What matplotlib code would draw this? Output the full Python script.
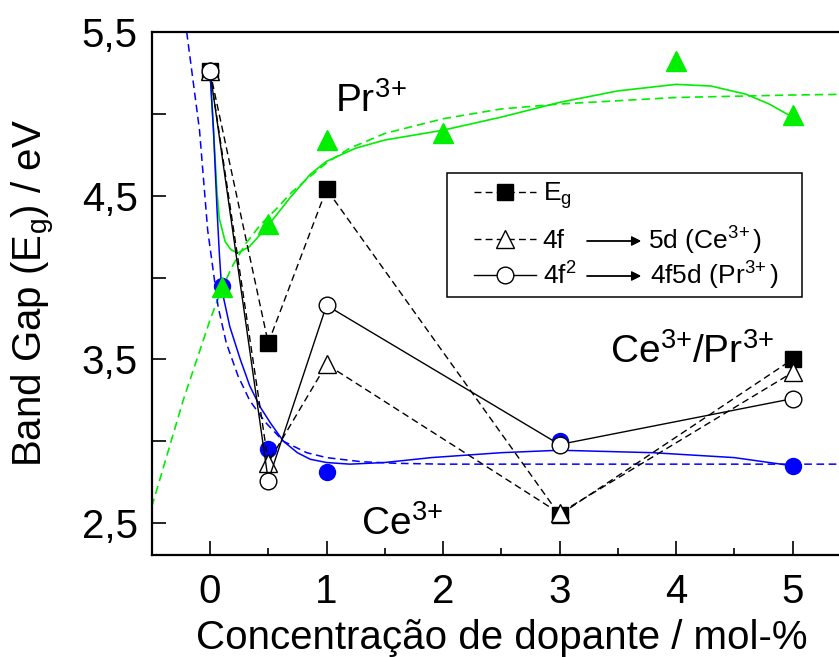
import matplotlib
matplotlib.use("Agg")
import matplotlib.pyplot as plt
from matplotlib.patches import Rectangle
from matplotlib.legend import Legend

plt.rcParams['font.family'] = ['Liberation Sans', 'DejaVu Sans']
plt.rcParams['mathtext.fontset'] = 'custom'
plt.rcParams['mathtext.rm'] = 'Liberation Sans'
plt.rcParams['mathtext.it'] = 'Liberation Sans'
plt.rcParams['mathtext.default'] = 'regular'

# ---- data ----
conc = [0, 0.5, 1, 3, 5]
eg = [5.26, 3.60, 4.54, 2.55, 3.50]
f_5d_ce = [5.26, 2.87, 3.47, 2.56, 3.42]
f2_4f5d_pr = [5.26, 2.76, 3.83, 2.98, 3.26]

pr_x = [0.1, 0.5, 1, 2, 4, 5]
pr_y = [3.94, 4.33, 4.84, 4.88, 5.32, 4.99]

ce_x = [0.1, 0.5, 1, 3, 5]
ce_y = [3.95, 2.95, 2.81, 3.00, 2.85]

# smooth curve through Pr3+
pr_curve_x = [0, 0.03, 0.06, 0.08, 0.13, 0.18, 0.24, 0.34, 0.49, 0.69, 0.86, 1.0, 1.25,
              1.5, 2.0, 2.5, 3.0, 3.5, 4.0, 4.3, 4.6, 4.8, 5.0]
pr_curve_y = [5.26, 4.90, 4.52, 4.36, 4.22, 4.17, 4.15, 4.19, 4.31, 4.49, 4.63, 4.71, 4.79,
              4.84, 4.90, 4.98, 5.07, 5.14, 5.18, 5.17, 5.12, 5.06, 4.98]
# exponential-type fit for Pr3+
pr_fit_x = [-0.5, -0.45, -0.23, 0.0, 0.1, 0.2, 0.31, 0.43, 0.57, 0.7, 0.83, 1.0, 1.2, 1.5,
            2.0, 2.5, 3.0, 4.0, 5.0, 5.5]
pr_fit_y = [2.60, 2.72, 3.25, 3.74, 3.93, 4.08, 4.21, 4.32, 4.42, 4.52, 4.60, 4.70, 4.79,
            4.88, 4.97, 5.03, 5.06, 5.10, 5.115, 5.12]

# smooth curve through Ce3+
ce_curve_x = [0, 0.03, 0.06, 0.08, 0.1, 0.17, 0.26, 0.34, 0.43, 0.52, 0.63, 0.75, 0.86,
              1.0, 1.2, 1.5, 1.9, 2.5, 3.0, 3.8, 4.5, 5.0]
ce_curve_y = [5.26, 4.90, 4.42, 4.15, 3.93, 3.70, 3.50, 3.34, 3.21, 3.11, 3.00, 2.93, 2.89,
              2.87, 2.86, 2.87, 2.90, 2.93, 2.945, 2.93, 2.90, 2.85]
# exponential-type fit for Ce3+
ce_fit_x = [-0.2, -0.09, -0.02, 0.07, 0.14, 0.24, 0.34, 0.47, 0.63, 0.83, 1.0, 1.3, 1.6,
            2.0, 3.0, 4.0, 5.0, 5.5]
ce_fit_y = [5.5, 4.90, 4.29, 3.82, 3.60, 3.40, 3.25, 3.12, 3.00, 2.93, 2.90, 2.875, 2.865,
            2.86, 2.86, 2.86, 2.86, 2.86]

x_ticks = [0, 1, 2, 3, 4, 5]
x_minor = [-0.5, 0.5, 1.5, 2.5, 3.5, 4.5, 5.5]
y_ticks = [2.5, 3.5, 4.5, 5.5]
y_tick_labels = ["2,5", "3,5", "4,5", "5,5"]
y_minor = [3.0, 4.0, 5.0]

GREEN = '#00ee00'
BLUE = '#0000ff'

W, H = 839, 657
fig = plt.figure(figsize=(W / 100, H / 100), dpi=100)
ax = fig.add_axes([151.75 / W, 1 - 555 / H, 6 * 116.5 / W, (555 - 32) / H])
ax.set_xlim(-0.5, 5.5)
ax.set_ylim(2.305, 5.5)

# fitted curves
ax.plot(pr_fit_x, pr_fit_y, color=GREEN, lw=1.2, ls=(0, (5, 3)), zorder=2)
ax.plot(pr_curve_x, pr_curve_y, color=GREEN, lw=1.2, zorder=2)
ax.plot(ce_fit_x, ce_fit_y, color=BLUE, lw=1.1, ls=(0, (5, 3)), zorder=2)
ax.plot(ce_curve_x, ce_curve_y, color=BLUE, lw=1.1, zorder=2)

ax.plot(ce_x, ce_y, 'o', color=BLUE, ms=11.5, zorder=3)
ax.plot(pr_x, pr_y, '^', color=GREEN, ms=14, zorder=4)

# black series
l1, = ax.plot(conc, eg, color='black', lw=1, ls=(0, (5, 3)), marker='s', ms=11,
              mfc='black', zorder=5)
l2, = ax.plot(conc, f_5d_ce, color='black', lw=1, ls=(0, (5, 3)), marker='^', ms=13,
              mfc='white', mec='black', mew=1, zorder=6)
l3, = ax.plot(conc, f2_4f5d_pr, color='black', lw=1, ls='-', marker='o', ms=12,
              mfc='white', mec='black', mew=1, zorder=7)

# axes styling
for s in ax.spines.values():
    s.set_linewidth(1.6)
ax.spines['right'].set_visible(False)
ax.set_xticks(x_ticks)
ax.set_xticks(x_minor, minor=True)
ax.set_yticks(y_ticks)
ax.set_yticklabels(y_tick_labels)
ax.set_yticks(y_minor, minor=True)
ax.tick_params(axis='both', which='both', direction='in', width=1.2, labelsize=29)
ax.tick_params(axis='x', which='major', length=10, pad=13)
ax.tick_params(axis='x', which='minor', length=5)
ax.tick_params(axis='y', which='both', length=10, pad=10)
ax.tick_params(right=False, top=False)

ax.set_xlabel('Concentração de dopante / mol-%', fontsize=29, labelpad=6)
ax.set_ylabel('Band Gap (E$_g$) / eV', fontsize=29, labelpad=18)

# annotations
SUP = '$^{3\\!+}$'
SUP_T = '$^{3\\!+}\\!$'
ax.text(1.07, 5.01, 'Pr' + SUP, fontsize=28)
ax.text(1.30, 2.43, 'Ce' + SUP, fontsize=28)
ax.text(3.43, 3.48, 'Ce' + SUP_T + '/Pr' + SUP, fontsize=28)

# legend (box + three single-entry legends)
fig.patches.append(Rectangle((447 / W, 1 - 297 / H), (802 - 447) / W, (297 - 173) / H,
                             transform=fig.transFigure, fill=False, ec='black', lw=1.1,
                             zorder=10))
entries = [(l1, 'E$_g$', 196), (l2, '4f', 241), (l3, '4f$^2$', 276)]
for h, lab, yy in entries:
    lg = Legend(ax, [h], [lab], loc='center left',
                bbox_to_anchor=(474 / W, 1 - yy / H), bbox_transform=fig.transFigure,
                frameon=False, fontsize=19, handlelength=2.35, handletextpad=0.25,
                borderaxespad=0, borderpad=0)
    ax.add_artist(lg)
fig.text(648 / W, 1 - 241 / H, '5d (Ce' + SUP + ')', fontsize=19, va='center')
fig.text(650 / W, 1 - 276 / H, '4f5d (Pr' + SUP + ')', fontsize=19, va='center')
for yy in [241, 276]:
    fig.add_artist(plt.annotate('', xy=(641 / W, 1 - yy / H), xytext=(587 / W, 1 - yy / H),
                                xycoords=fig.transFigure, textcoords=fig.transFigure,
                                arrowprops=dict(arrowstyle='-|>', color='black', lw=1,
                                                mutation_scale=14, shrinkA=0, shrinkB=0)))

fig.savefig('out.png', dpi=100)
